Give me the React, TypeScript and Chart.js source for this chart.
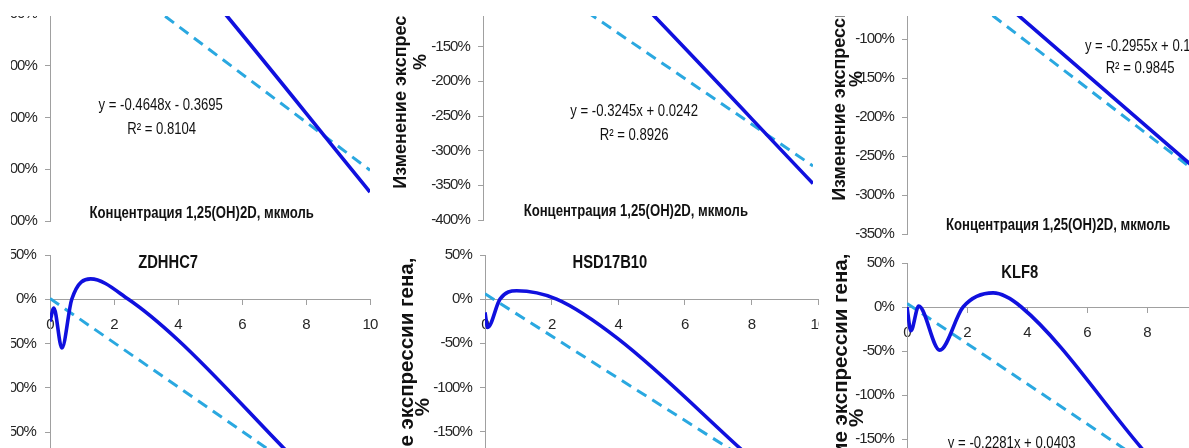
import React, { useEffect, useRef } from 'react';
import { Chart, registerables } from 'chart.js';

Chart.register(...registerables);

// ---------------- data ----------------
// x axis: concentration of 1,25(OH)2D, µmol (0..10)
const xTicksStep = 2;
const trendX = [0, 10];

// top-left panel (gene title outside the visible crop)
const tlX = [0, 0.1, 0.4, 1.2, 2.5, 4, 10];
const tlY = [0, -0.35, 0.1, 0.35, 0.15, -0.9, -5.44];
const tlTrend = [-0.3695, -5.0175];
const tlEq = ['y = -0.4648x - 0.3695', 'R² = 0.8104'];

// top-middle panel
const tmX = [0, 0.1, 0.5, 1.5, 3, 4.5, 10];
const tmY = [-0.05, -0.3, 0.1, 0.2, 0.0, -0.72, -3.475];
const tmTrend = [0.0242, -3.2208];
const tmEq = ['y = -0.3245x + 0.0242', 'R² = 0.8926'];

// top-right panel
const trX = [0, 0.1, 0.5, 1.5, 3, 10];
const trY = [0.05, -0.25, 0.1, 0.05, -0.46, -2.79];
const trTrend = [0.1448, -2.8102];
const trEq = ['y = -0.2955x + 0.1448', 'R² = 0.9845'];

// ZDHHC7
const zdhhc7X = [0, 0.12, 0.37, 0.68, 1.27, 2.45, 4, 7.3, 10];
const zdhhc7Y = [-0.25, -0.1, -0.55, 0.0, 0.23, 0.0, -0.46, -1.68, -2.68];
const zdhhc7Trend = [0.01, -2.49];

// HSD17B10
const hsdX = [0, 0.08, 0.45, 0.95, 2.15, 4, 7.66, 10];
const hsdY = [-0.15, -0.32, 0.0, 0.095, 0.0, -0.45, -1.69, -2.5];
const hsdTrend = [0.06, -2.33];

// KLF8
const klf8X = [0, 0.13, 0.39, 1.09, 1.87, 2.87, 3.81, 7.81, 10];
const klf8Y = [0.0, -0.27, 0.01, -0.49, 0.0, 0.16, 0.0, -1.6, -2.48];
const klf8Trend = [0.0403, -2.2407];
const klf8Eq = ['y = -0.2281x + 0.0403'];

const xTitle = 'Концентрация 1,25(OH)2D, мкмоль';
const yTitle = 'Изменение экспрессии гена,';
const yTitle2 = '%';

// ---------------- styles ----------------
const SOLID = '#1010DE';
const DASHED = '#2AA8E0';
const AXIS = '#A0A0A0';
const TEXT = '#111111';
const TICK = '#262626';
const SANS = 'Liberation Sans';
const CONDENSE = 0.82;
const P = 30;
const WY = 110;

type TextItem = { t: string; x: number; y: number; size: number; bold?: boolean; align?: CanvasTextAlign };
type RotItem = { t: string; dx: number; y: number; size: number };

type PanelCfg = {
  clip: { l: number; t: number; r: number; b: number };
  plot: { l: number; t: number; r: number; b: number };
  yMin: number;
  yMax: number;
  yStep: number;
  yPad: number;
  sx: number[];
  sy: number[];
  trend: number[];
  texts: TextItem[];
  rot: RotItem[];
};

const panels: PanelCfg[] = [
  {
    clip: { l: 11, t: 16, r: 385, b: 250 },
    plot: { l: 50, t: -141, r: 370, b: 221 },
    yMin: -6, yMax: 1, yStep: 1, yPad: 8,
    sx: tlX, sy: tlY, trend: tlTrend,
    texts: [
      { t: tlEq[0], x: 3.46, y: -3.767, size: 16 },
      { t: tlEq[1], x: 3.49, y: -4.231, size: 16 },
      { t: xTitle, x: 4.74, y: -5.85, size: 16, bold: true },
    ],
    rot: [
      { t: yTitle, dx: 80, y: -2.5, size: 18 },
      { t: yTitle2, dx: 61, y: -2.5, size: 18 },
    ],
  },
  {
    clip: { l: 385, t: 16, r: 819, b: 250 },
    plot: { l: 483, t: -92, r: 813, b: 220 },
    yMin: -4, yMax: 0.5, yStep: 0.5, yPad: 8,
    sx: tmX, sy: tmY, trend: tmTrend,
    texts: [
      { t: tmEq[0], x: 4.58, y: -2.435, size: 16 },
      { t: tmEq[1], x: 4.58, y: -2.788, size: 16 },
      { t: xTitle, x: 4.63, y: -3.88, size: 16, bold: true },
    ],
    rot: [
      { t: yTitle, dx: 81.5, y: -1.72, size: 18 },
      { t: yTitle2, dx: 62, y: -1.72, size: 18 },
    ],
  },
  {
    clip: { l: 820, t: 16, r: 1189, b: 250 },
    plot: { l: 907, t: -78, r: 1207, b: 234 },
    yMin: -3.5, yMax: 0.5, yStep: 0.5, yPad: 8,
    sx: trX, sy: trY, trend: trTrend,
    texts: [
      { t: trEq[0], x: 5.93, y: -1.096, size: 16, align: 'left' },
      { t: trEq[1], x: 7.77, y: -1.376, size: 16 },
      { t: xTitle, x: 5.04, y: -3.395, size: 16, bold: true },
    ],
    rot: [
      { t: yTitle, dx: 67, y: -1.45, size: 18 },
      { t: yTitle2, dx: 50, y: -1.513, size: 18 },
    ],
  },
  {
    clip: { l: 11, t: 246, r: 385, b: 448 },
    plot: { l: 50, t: 255, r: 370, b: 565 },
    yMin: -3, yMax: 0.5, yStep: 0.5, yPad: 9,
    sx: zdhhc7X, sy: zdhhc7Y, trend: zdhhc7Trend,
    texts: [{ t: 'ZDHHC7', x: 3.69, y: 0.406, size: 18, bold: true }],
    rot: [
      { t: yTitle, dx: 78, y: -1.2, size: 20.5 },
      { t: yTitle2, dx: 62, y: -1.2, size: 20.5 },
    ],
  },
  {
    clip: { l: 385, t: 246, r: 819, b: 448 },
    plot: { l: 485, t: 255, r: 818, b: 564 },
    yMin: -3, yMax: 0.5, yStep: 0.5, yPad: 8,
    sx: hsdX, sy: hsdY, trend: hsdTrend,
    texts: [{ t: 'HSD17B10', x: 3.75, y: 0.414, size: 18, bold: true }],
    rot: [
      { t: yTitle, dx: 78, y: -1.165, size: 20.5 },
      { t: yTitle2, dx: 62, y: -1.222, size: 20.5 },
    ],
  },
  {
    clip: { l: 820, t: 246, r: 1189, b: 448 },
    plot: { l: 907, t: 263, r: 1207, b: 571 },
    yMin: -3, yMax: 0.5, yStep: 0.5, yPad: 8,
    sx: klf8X, sy: klf8Y, trend: klf8Trend,
    texts: [
      { t: 'KLF8', x: 3.76, y: 0.383, size: 18, bold: true },
      { t: klf8Eq[0], x: 3.49, y: -1.557, size: 16 },
    ],
    rot: [
      { t: yTitle, dx: 65.5, y: -1.034, size: 20.5 },
      { t: yTitle2, dx: 50, y: -1.261, size: 20.5 },
    ],
  },
];

function makeTextPlugin(cfg: PanelCfg) {
  return {
    id: 'panelTexts',
    beforeDraw(chart: any) {
      // tighten tick label spacing to imitate the narrow Excel font
      (chart.ctx as any).letterSpacing = '-0.9px';
    },
    afterDraw(chart: any) {
      const ctx: CanvasRenderingContext2D = chart.ctx;
      const xs = chart.scales.x;
      const ys = chart.scales.y;
      ctx.save();
      (ctx as any).letterSpacing = '0px';
      ctx.fillStyle = TEXT;
      ctx.textBaseline = 'middle';
      for (const it of cfg.texts) {
        ctx.save();
        ctx.font = `${it.bold ? 'bold ' : ''}${it.size}px "${SANS}"`;
        ctx.textAlign = it.align || 'center';
        ctx.translate(xs.getPixelForValue(it.x), ys.getPixelForValue(it.y));
        ctx.scale(CONDENSE, 1);
        ctx.fillText(it.t, 0, 0);
        ctx.restore();
      }
      for (const r of cfg.rot) {
        ctx.save();
        ctx.font = `bold ${r.size}px "${SANS}"`;
        ctx.textAlign = 'center';
        ctx.translate(chart.chartArea.left - r.dx, ys.getPixelForValue(r.y));
        ctx.rotate(-Math.PI / 2);
        ctx.fillText(r.t, 0, 0);
        ctx.restore();
      }
      ctx.restore();
    },
  };
}

function Panel({ cfg }: { cfg: PanelCfg }) {
  const ref = useRef<HTMLCanvasElement | null>(null);
  const plotW = cfg.plot.r - cfg.plot.l;
  const plotH = cfg.plot.b - cfg.plot.t;
  const cw = WY + plotW + P;
  const chh = plotH + 2 * P;

  useEffect(() => {
    if (!ref.current) return;
    const chart = new Chart(ref.current, {
      type: 'line',
      data: {
        datasets: [
          {
            data: cfg.sx.map((x, i) => ({ x, y: cfg.sy[i] })),
            borderColor: SOLID,
            borderWidth: 3.6,
            pointRadius: 0,
            fill: false,
            cubicInterpolationMode: 'monotone',
          },
          {
            data: trendX.map((x, i) => ({ x, y: cfg.trend[i] })),
            borderColor: DASHED,
            borderWidth: 3,
            borderDash: [11, 7],
            pointRadius: 0,
            fill: false,
            tension: 0,
          },
        ],
      },
      options: {
        responsive: false,
        animation: false,
        devicePixelRatio: 1,
        layout: { padding: { left: 0, top: P, right: P, bottom: P } },
        plugins: { legend: { display: false }, tooltip: { enabled: false }, title: { display: false } },
        scales: {
          x: {
            type: 'linear',
            min: 0,
            max: 10,
            position: { y: 0 } as any,
            afterFit: (s: any) => { s.height = 0; },
            ticks: { stepSize: xTicksStep, color: TICK, font: { family: SANS, size: 15 }, padding: 12 },
            grid: { drawOnChartArea: false, drawTicks: true, tickLength: 5, color: AXIS },
            border: { color: AXIS, width: 1 },
          },
          y: {
            type: 'linear',
            min: cfg.yMin,
            max: cfg.yMax,
            position: 'left',
            afterFit: (s: any) => { s.width = WY; },
            ticks: {
              stepSize: cfg.yStep,
              color: TICK,
              font: { family: SANS, size: 15 },
              padding: cfg.yPad,
              callback: (v: any) => `${Math.round(Number(v) * 100)}%`,
            },
            grid: { drawOnChartArea: false, drawTicks: true, tickLength: 5, color: AXIS },
            border: { color: AXIS, width: 1 },
          },
        },
      } as any,
      plugins: [makeTextPlugin(cfg)],
    });
    return () => chart.destroy();
  }, []);

  return (
    <div
      style={{
        position: 'absolute',
        left: cfg.clip.l,
        top: cfg.clip.t,
        width: cfg.clip.r - cfg.clip.l,
        height: cfg.clip.b - cfg.clip.t,
        overflow: 'hidden',
      }}
    >
      <canvas
        ref={ref}
        width={cw}
        height={chh}
        style={{
          position: 'absolute',
          display: 'block',
          left: cfg.plot.l - WY - cfg.clip.l,
          top: cfg.plot.t - P - cfg.clip.t,
          width: cw,
          height: chh,
        }}
      />
    </div>
  );
}

export default function App() {
  return (
    <div
      style={{
        position: 'fixed',
        left: 0,
        top: 0,
        width: 1189,
        height: 448,
        overflow: 'hidden',
        background: '#ffffff',
      }}
    >
      {panels.map((p, i) => (
        <Panel key={i} cfg={p} />
      ))}
    </div>
  );
}
